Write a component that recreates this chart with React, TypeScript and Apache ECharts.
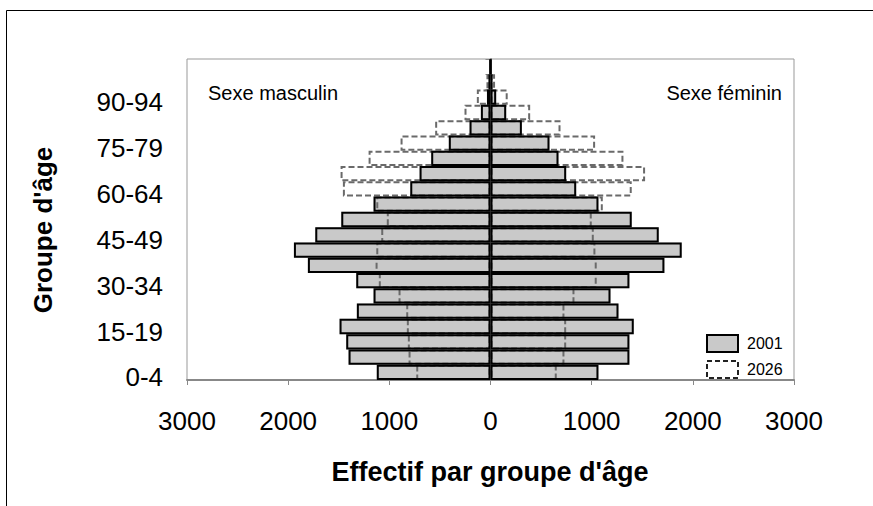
import React, { useEffect, useRef } from "react";
import * as echarts from "echarts";

const categories = ["0-4","5-9","10-14","15-19","20-24","25-29","30-34","35-39","40-44","45-49","50-54","55-59","60-64","65-69","70-74","75-79","80-84","85-89","90-94","95-99","100+"];
const male2001 = [1124,1403,1426,1492,1321,1156,1327,1805,1943,1732,1475,1156,793,701,586,412,207,95,35,20,3];
const female2001 = [1067,1373,1373,1416,1265,1186,1373,1719,1890,1663,1396,1067,847,748,672,583,310,155,56,20,3];
const male2026 = [734,810,817,827,833,909,1104,1136,1129,1080,1025,1129,1459,1482,1205,889,547,257,135,40,10];
const female2026 = [655,731,748,748,731,830,1050,1050,1037,1021,1001,1110,1396,1528,1314,1034,692,392,170,45,10];
const xTicks = [-3000, 3000, 1000];

const FONT = "Liberation Sans, Arial, sans-serif";

export default function App() {
  const ref = useRef<HTMLDivElement>(null);
  useEffect(() => {
    if (!ref.current) return;
    const chart = echarts.init(ref.current, undefined, { renderer: "svg" });
    const neg = (a: number[]) => a.map((v) => -v);
    const common = { type: "bar", barGap: "-100%", barCategoryGap: 0 };
    const fillStyle = { color: "#c9c9c9", borderWidth: 0 };
    const borderStyle = { color: "transparent", borderColor: "#000", borderWidth: 2 };
    const dashStyle = { color: "transparent", borderColor: "#6a6a6a", borderWidth: 2, borderType: [6, 3] };
    chart.setOption({
      animation: false,
      backgroundColor: "#fff",
      textStyle: { fontFamily: FONT },
      grid: { left: 187, right: 79, top: 59, bottom: 126, show: true, borderColor: "#999", borderWidth: 1 },
      legend: {
        orient: "vertical",
        left: 706,
        top: 334,
        padding: 0,
        itemWidth: 31,
        itemHeight: 17,
        itemGap: 7,
        icon: "rect",
        textStyle: { fontSize: 16, color: "#000", fontFamily: FONT, padding: [0, 0, 0, 4] },
        data: [
          { name: "2001", itemStyle: { color: "#c9c9c9", borderColor: "#000", borderWidth: 2 } },
          { name: "2026", itemStyle: { color: "#fff", borderColor: "#222", borderWidth: 2, borderType: [5, 3] } },
        ],
      },
      xAxis: {
        type: "value",
        min: xTicks[0],
        max: xTicks[1],
        interval: xTicks[2],
        axisLine: { show: true, lineStyle: { color: "#888", width: 2 } },
        axisTick: { show: true, length: 5, lineStyle: { color: "#888" } },
        splitLine: { show: false },
        axisLabel: { fontSize: 26, color: "#000", margin: 28, fontFamily: FONT, formatter: (v: number) => String(Math.abs(v)) },
      },
      yAxis: {
        type: "category",
        data: categories,
        axisLine: { show: true, lineStyle: { color: "#888", width: 2 } },
        axisTick: { show: true, interval: 0, length: 5, lineStyle: { color: "#888" } },
        axisLabel: { interval: 2, fontSize: 26, color: "#000", margin: 24, fontFamily: FONT, verticalAlign: "top", lineHeight: 10 },
        splitLine: { show: false },
      },
      series: [
        { ...common, name: "2001", data: neg(male2001), itemStyle: fillStyle },
        { ...common, name: "2001", data: female2001, itemStyle: fillStyle },
        { ...common, name: "2026", data: neg(male2026), itemStyle: dashStyle },
        { ...common, name: "2026", data: female2026, itemStyle: dashStyle },
        { ...common, name: "2001b", data: neg(male2001), itemStyle: borderStyle },
        { ...common, name: "2001b", data: female2001, itemStyle: borderStyle },
      ],
      graphic: [
        { type: "rect", shape: { x: 6.5, y: 10.5, width: 900, height: 520 }, style: { fill: "none", stroke: "#000", lineWidth: 1 }, silent: true },
        { type: "text", x: 208, y: 93, style: { text: "Sexe masculin", fontSize: 20, fill: "#000", fontFamily: FONT, align: "left", verticalAlign: "middle" } },
        { type: "text", x: 782, y: 93, style: { text: "Sexe féminin", fontSize: 20, fill: "#000", fontFamily: FONT, align: "right", verticalAlign: "middle" } },
        { type: "text", x: 490, y: 472, style: { text: "Effectif par groupe d'âge", fontSize: 27, fontWeight: "bold", fill: "#000", fontFamily: FONT, align: "center", verticalAlign: "middle" } },
        { type: "text", x: 43, y: 230, rotation: Math.PI / 2, style: { text: "Groupe d'âge", fontSize: 26, fontWeight: "bold", fill: "#000", fontFamily: FONT, align: "center", verticalAlign: "middle" } },
      ],
    });
    return () => chart.dispose();
  }, []);
  return <div ref={ref} style={{ position: "fixed", left: 0, top: 0, width: 873, height: 506 }} />;
}
